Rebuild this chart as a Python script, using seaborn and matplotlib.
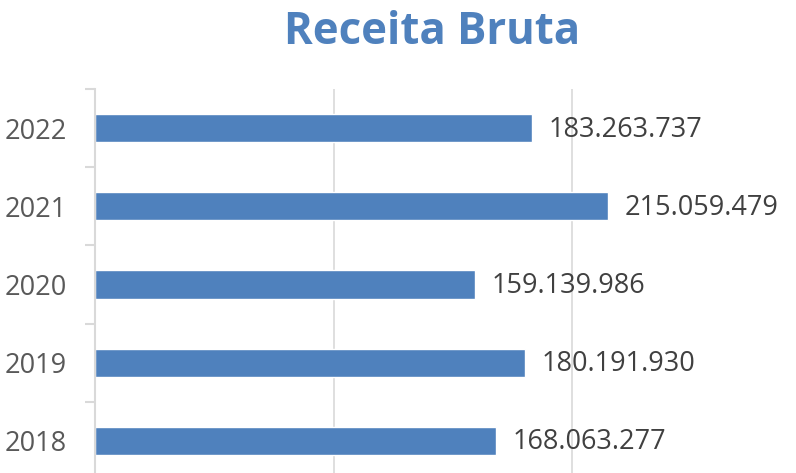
import matplotlib
matplotlib.use("Agg")
import matplotlib.pyplot as plt
import seaborn as sns
import numpy as np

# data
years = ["2022", "2021", "2020", "2019", "2018"]
receita = [183263737, 215059479, 159139986, 180191930, 168063277]

sns.set_theme(style="white")
plt.rcParams["font.family"] = ["Open Sans", "DejaVu Sans"]

W, H = 796, 473
fig = plt.figure(figsize=(W / 100, H / 100), dpi=100)
# axes: left edge at x=95px, 100M = 238.5px, top at y=89px, category band 78px
ax = fig.add_axes([95 / W, (H - 480) / H, 715.5 / W, 391 / H])

sns.barplot(x=receita, y=years, order=years, color="#4F81BD", saturation=1,
            width=0.36, orient="h", ax=ax)

ax.set_xlim(0, 300e6)
ax.set_ylim(4.5, -0.5)
ax.set_xticks([0, 100e6, 200e6, 300e6])
ax.set_xticklabels([])
ax.tick_params(axis="x", length=0)
ax.grid(axis="x", color="#D9D9D9", linewidth=1.2)
ax.grid(axis="y", visible=False)
ax.set_axisbelow(True)
for s in ["top", "right", "bottom"]:
    ax.spines[s].set_visible(False)
ax.spines["left"].set_color("#D9D9D9")
ax.spines["left"].set_linewidth(1.5)

# year labels at centres, small tick marks at band boundaries
ax.tick_params(axis="y", which="major", length=0, pad=20, labelsize=19.5,
               labelcolor="#595959")
ax.set_yticks(np.arange(-0.5, 5, 1), minor=True)
ax.tick_params(axis="y", which="minor", left=True, length=7, width=1.5,
               color="#D9D9D9")
ax.set_xlabel("")
ax.set_ylabel("")

for i, v in enumerate(receita):
    ax.text(v + 7e6, i + 0.02, f"{v:,}".replace(",", "."), va="center",
            ha="left", fontsize=19.5, color="#404040")

fig.text(432 / W, 1 - 33 / H, "Receita Bruta", ha="center", va="center",
         fontsize=31.5, fontweight="bold", color="#4F81BD")

fig.savefig("out.png", dpi=100)
